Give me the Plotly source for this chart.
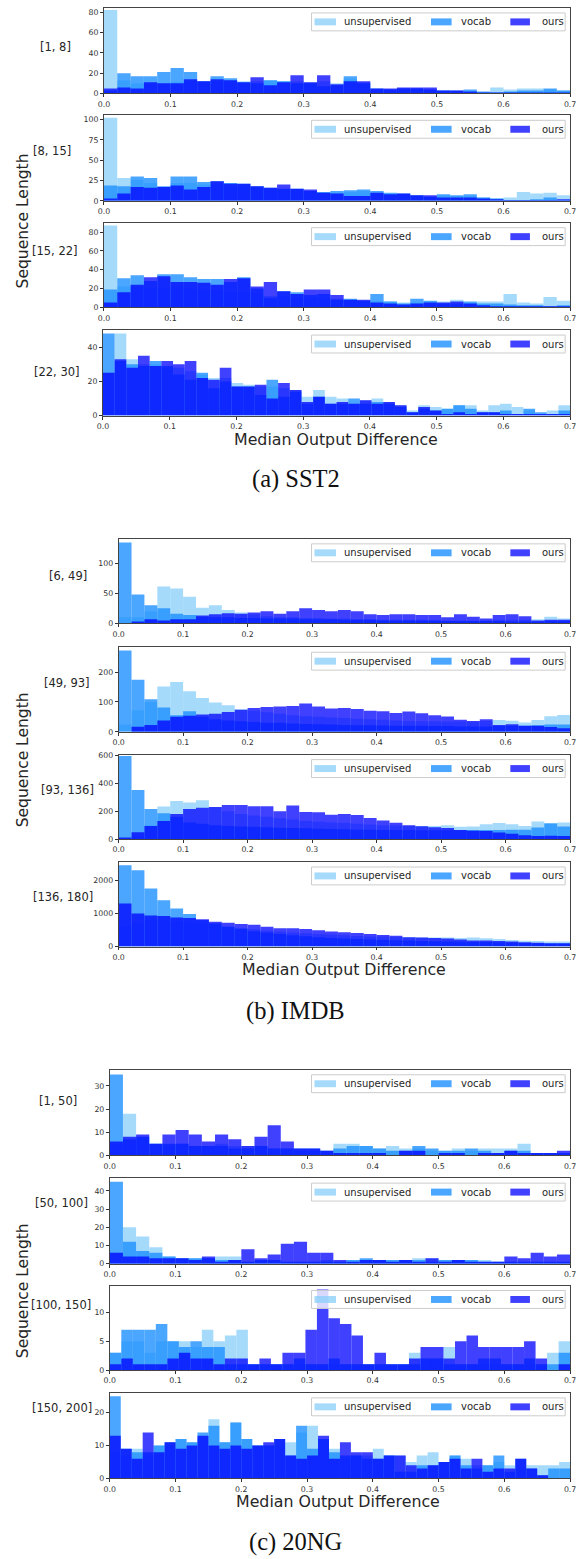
import numpy as np
import plotly.graph_objects as go

# ---------------- data (bin counts) ----------------
series_names = ["unsupervised", "vocab", "ours"]
row_labels = ["[1, 8]", "[8, 15]", "[15, 22]", "[22, 30]",
              "[6, 49]", "[49, 93]", "[93, 136]", "[136, 180]",
              "[1, 50]", "[50, 100]", "[100, 150]", "[150, 200]"]
captions = ["(a) SST2", "(b) IMDB", "(c) 20NG"]
x_ticks = [0.0, 0.1, 0.2, 0.3, 0.4, 0.5, 0.6, 0.7]

# SST2
u1 = [82, 13, 10, 10, 10, 11, 12, 12, 12, 13, 12, 12, 13, 12, 12, 11, 12, 10, 14, 11, 4, 4, 5, 5, 4, 3, 2, 2, 1, 6, 4, 5, 5, 4, 3]
v1 = [3, 20, 17, 17, 21, 25, 21, 12, 17, 15, 11, 10, 13, 12, 10, 10, 7, 8, 17, 10, 5, 4, 5, 5, 4, 3, 3, 4, 2, 1, 2, 3, 3, 5, 3]
o1 = [5, 6, 5, 11, 10, 10, 14, 12, 14, 13, 11, 16, 8, 11, 18, 11, 18, 9, 12, 12, 5, 5, 6, 6, 6, 3, 3, 2, 1, 1, 1, 1, 1, 1, 1]

u2 = [102, 28, 26, 22, 16, 22, 22, 20, 20, 18, 18, 16, 14, 14, 13, 12, 10, 10, 11, 12, 10, 8, 8, 6, 5, 7, 6, 6, 4, 3, 4, 11, 9, 10, 7]
v2 = [19, 18, 30, 28, 18, 30, 30, 23, 24, 22, 21, 18, 16, 15, 15, 12, 11, 12, 13, 14, 12, 10, 9, 7, 5, 8, 7, 8, 4, 3, 1, 1, 2, 4, 1]
o2 = [3, 9, 17, 16, 17, 19, 14, 17, 24, 21, 21, 18, 16, 20, 15, 14, 10, 9, 6, 6, 10, 8, 9, 7, 7, 4, 4, 4, 3, 2, 1, 1, 1, 1, 2]

u3 = [87, 22, 22, 20, 20, 22, 20, 18, 18, 16, 16, 15, 12, 12, 11, 10, 10, 9, 8, 7, 7, 6, 5, 5, 6, 6, 8, 5, 6, 6, 14, 5, 4, 11, 7]
v3 = [19, 31, 34, 28, 35, 35, 32, 30, 30, 27, 32, 20, 10, 17, 16, 13, 14, 8, 9, 7, 14, 6, 4, 9, 7, 4, 4, 6, 4, 4, 3, 2, 2, 1, 2]
o3 = [5, 16, 24, 32, 33, 27, 27, 26, 24, 30, 31, 22, 27, 17, 14, 19, 19, 13, 8, 8, 5, 4, 3, 4, 5, 5, 6, 4, 2, 1, 1, 1, 1, 1, 1]

u4 = [25, 48, 33, 30, 30, 28, 28, 26, 24, 22, 22, 19, 18, 17, 17, 16, 15, 11, 15, 11, 10, 7, 9, 10, 8, 6, 3, 6, 5, 4, 6, 6, 3, 6, 7, 5, 3, 1, 3, 6]
v4 = [48, 32, 30, 29, 32, 29, 24, 21, 25, 16, 20, 17, 17, 12, 21, 11, 14, 7, 11, 7, 7, 10, 7, 8, 7, 5, 2, 4, 3, 4, 6, 4, 2, 2, 3, 1, 4, 2, 1, 3]
o4 = [25, 33, 28, 35, 29, 32, 30, 32, 22, 21, 28, 17, 17, 18, 10, 19, 15, 8, 11, 7, 8, 7, 9, 7, 8, 6, 2, 5, 3, 1, 2, 1, 2, 2, 1, 1, 1, 1, 1, 1]

# IMDB
u5 = [10, 10, 20, 61, 58, 44, 26, 30, 22, 18, 15, 12, 10, 10, 9, 9, 8, 8, 7, 7, 6, 6, 6, 6, 5, 5, 5, 5, 5, 6, 6, 6, 7, 11, 8]
v5 = [134, 48, 30, 25, 16, 14, 11, 10, 10, 9, 9, 8, 8, 8, 7, 7, 7, 6, 6, 6, 5, 5, 5, 5, 5, 4, 4, 4, 4, 4, 3, 3, 3, 4, 4]
o5 = [0, 3, 7, 5, 7, 7, 13, 15, 17, 16, 18, 20, 16, 20, 25, 22, 20, 22, 20, 15, 14, 15, 15, 14, 14, 10, 15, 11, 8, 14, 15, 12, 5, 6, 6]

u6 = [24, 72, 100, 152, 167, 136, 113, 98, 89, 75, 70, 65, 60, 55, 52, 50, 48, 46, 44, 42, 40, 38, 36, 35, 35, 34, 34, 34, 36, 39, 37, 31, 39, 52, 56]
v6 = [272, 174, 109, 81, 55, 69, 50, 42, 38, 35, 33, 30, 30, 28, 26, 25, 24, 23, 22, 22, 21, 20, 20, 20, 19, 19, 18, 18, 18, 19, 20, 20, 22, 24, 24]
o6 = [0, 17, 23, 38, 50, 54, 58, 60, 66, 74, 80, 83, 85, 86, 95, 85, 78, 80, 76, 70, 69, 63, 68, 62, 55, 51, 40, 36, 42, 23, 25, 20, 20, 16, 12]

u7 = [0, 20, 100, 234, 273, 263, 278, 229, 200, 180, 170, 160, 150, 140, 130, 125, 120, 115, 110, 105, 100, 98, 96, 95, 95, 100, 88, 90, 107, 115, 107, 95, 127, 115, 120]
v7 = [595, 351, 215, 185, 160, 120, 110, 100, 95, 90, 88, 85, 82, 80, 78, 75, 72, 70, 68, 67, 66, 65, 65, 64, 64, 63, 64, 65, 66, 66, 68, 68, 83, 112, 90]
o7 = [12, 50, 95, 130, 180, 215, 225, 230, 245, 245, 235, 235, 200, 240, 195, 192, 175, 180, 172, 152, 134, 118, 100, 93, 86, 79, 66, 60, 59, 47, 38, 28, 22, 25, 22]

u8 = [600, 700, 800, 800, 780, 750, 700, 650, 600, 560, 520, 480, 450, 420, 400, 380, 360, 340, 320, 300, 300, 290, 280, 275, 270, 275, 260, 270, 250, 230, 200, 175, 170, 155, 150]
v8 = [2450, 2300, 1750, 1400, 1150, 980, 800, 700, 600, 530, 460, 420, 380, 340, 310, 280, 260, 245, 230, 215, 200, 190, 180, 170, 160, 150, 145, 140, 135, 130, 120, 110, 100, 95, 90]
o8 = [1300, 1000, 940, 920, 875, 860, 820, 750, 720, 680, 655, 600, 550, 550, 530, 490, 455, 432, 405, 375, 345, 325, 280, 275, 260, 240, 210, 185, 180, 170, 150, 130, 115, 100, 100]

# 20NG
u9 = [5, 18, 8, 5, 4, 5, 4, 4, 5, 4, 4, 4, 3, 3, 2, 2, 2, 5, 5, 4, 3, 4, 3, 3, 2, 2, 3, 2, 3, 3, 3, 5, 1, 1, 1]
v9 = [35, 7, 8, 5, 5, 5, 4, 4, 4, 3, 3, 4, 3, 3, 3, 3, 2, 3, 4, 4, 3, 2, 2, 4, 3, 2, 2, 3, 2, 1, 2, 2, 1, 1, 1]
o9 = [6, 8, 9, 5, 9, 11, 9, 6, 9, 7, 4, 8, 13, 6, 3, 3, 2, 1, 1, 1, 1, 0, 2, 2, 0, 1, 1, 0, 1, 1, 2, 1, 1, 1, 2]

u10 = [6, 20, 15, 9, 4, 3, 3, 3, 4, 4, 1, 2, 2, 1, 1, 1, 2, 1, 2, 2, 2, 2, 2, 3, 3, 2, 2, 2, 2, 1, 1, 1, 1, 1, 1]
v10 = [45, 12, 7, 6, 4, 3, 3, 3, 2, 2, 1, 2, 2, 1, 1, 1, 1, 1, 2, 3, 2, 2, 2, 2, 1, 2, 2, 2, 1, 1, 1, 1, 1, 1, 1]
o10 = [6, 4, 4, 3, 3, 3, 2, 4, 1, 2, 8, 3, 5, 11, 12, 6, 6, 2, 1, 2, 2, 1, 2, 1, 3, 1, 2, 1, 1, 1, 4, 3, 6, 4, 5]

u11 = [3, 5, 5, 3, 5, 5, 5, 4, 7, 5, 6, 7, 1, 1, 1, 1, 1, 1, 1, 1, 1, 1, 1, 1, 1, 1, 3, 2, 2, 4, 1, 1, 1, 1, 1, 1, 1, 1, 3, 5]
v11 = [3, 7, 7, 7, 8, 5, 4, 5, 4, 4, 1, 1, 1, 1, 1, 1, 2, 1, 1, 2, 1, 1, 1, 1, 1, 1, 1, 2, 2, 1, 1, 1, 2, 2, 1, 1, 2, 1, 1, 3]
o11 = [1, 2, 1, 1, 1, 2, 3, 2, 2, 1, 2, 2, 1, 2, 1, 3, 3, 7, 14, 9, 8, 6, 1, 3, 1, 1, 2, 4, 4, 2, 5, 6, 4, 4, 4, 4, 5, 2, 0, 1]

u12 = [8, 7, 9, 7, 10, 10, 12, 11, 12, 18, 11, 17, 12, 10, 10, 10, 11, 14, 16, 12, 9, 6, 7, 7, 9, 7, 7, 5, 7, 8, 5, 7, 6, 4, 4, 5, 4, 3, 4, 4, 4, 5]
v12 = [25, 9, 8, 8, 10, 11, 12, 11, 14, 16, 11, 17, 12, 10, 10, 12, 7, 16, 9, 12, 8, 7, 7, 6, 6, 7, 2, 2, 4, 4, 5, 7, 4, 3, 4, 7, 2, 6, 3, 1, 3, 3]
o12 = [13, 9, 6, 14, 8, 11, 9, 10, 13, 10, 9, 10, 9, 10, 11, 12, 7, 6, 7, 13, 6, 11, 8, 8, 6, 7, 7, 4, 3, 4, 5, 6, 3, 6, 2, 3, 3, 6, 3, 1, 0, 0]

y_max = [84, 105, 90, 50, 140, 283, 605, 2550, 37, 47, 14.7, 26]
y_dtick = [20, 25, 20, 20, 50, 100, 200, 1000, 10, 10, 5, 10]

panel_data = [(u1, v1, o1), (u2, v2, o2), (u3, v3, o3), (u4, v4, o4),
              (u5, v5, o5), (u6, v6, o6), (u7, v7, o7), (u8, v8, o8),
              (u9, v9, o9), (u10, v10, o10), (u11, v11, o11), (u12, v12, o12)]

# ---------------- layout (pixels) ----------------
W, H = 580, 1559
panels = [(100, 4, 576, 90), (100, 112, 576, 198), (100, 220, 576, 305), (99, 328, 576, 414),
          (115, 538, 576, 623), (115, 647, 576, 732), (115, 755, 576, 840), (115, 863, 576, 948),
          (106, 1072, 576, 1158), (106, 1181, 576, 1267), (106, 1289, 576, 1374), (106, 1397, 576, 1483)]
label_pos = [(51, 43), (47, 148), (50, 248), (52, 370),
             (63, 575), (62, 683), (63, 791), (58, 898),
             (53, 1103), (57, 1206), (56, 1309), (57, 1412)]
ylab_pos = [(17, 218), (17, 760), (17, 1294)]
xtitle_pos = [(337, 438), (345, 971), (339, 1506)]
caption_pos = [(296, 478), (296, 1013), (296, 1547)]

colors = ["rgba(135,206,250,0.75)", "rgba(30,144,255,0.8)", "rgba(0,0,255,0.75)"]
tick_font = dict(size=7.8, color="#333333", family="DejaVu Sans")
text_color = "#262626"


def fx(p):
    return p / W


def fy(p):
    return 1 - p / H


fig = go.Figure()
layout = dict(width=W, height=H, margin=dict(l=0, r=0, t=0, b=0),
              paper_bgcolor="white", plot_bgcolor="white", barmode="overlay",
              showlegend=False, font=dict(family="DejaVu Sans", color=text_color))
shapes = []
annotations = []

for i, ((l, t, r, b), series) in enumerate(zip(panels, panel_data)):
    k = "" if i == 0 else str(i + 1)
    for name, vals, col in zip(series_names, series, colors):
        n = len(vals)
        edges = np.linspace(0, 0.7, n + 1)
        centers = (edges[:-1] + edges[1:]) / 2
        fig.add_trace(go.Bar(x=centers, y=vals, width=0.7 / n, name=name,
                             marker=dict(color=col, line=dict(width=0)),
                             xaxis="x" + k, yaxis="y" + k, showlegend=False,
                             hoverinfo="skip"))
    common = dict(ticks="outside", ticklen=3, tickwidth=0.8, tickcolor="#333333",
                  showline=True, mirror=True, linecolor="#444444", linewidth=0.9,
                  showgrid=False, zeroline=False, tickfont=tick_font, fixedrange=True,
                  ticklabeloverflow="allow")
    layout["xaxis" + k] = dict(domain=[fx(l), fx(r)], range=[0, 0.7], anchor="y" + k,
                               tickvals=x_ticks, tickformat=".1f", **common)
    layout["yaxis" + k] = dict(domain=[fy(b), fy(t)], range=[0, y_max[i]], anchor="x" + k,
                               dtick=y_dtick[i], tick0=0, tickformat="d", **common)

    # legend box
    bl, br, bt = 312, 571, t + 5
    shapes.append(dict(type="rect", xref="paper", yref="paper",
                       x0=fx(bl), x1=fx(br), y0=fy(bt + 18), y1=fy(bt),
                       fillcolor="rgba(255,255,255,0.8)",
                       line=dict(color="#cccccc", width=1), layer="above"))
    yc = bt + 9
    for (p0, p1, tx), name, col in zip([(3, 25, 31), (122, 143, 151), (203, 223, 233)],
                                       series_names, colors):
        shapes.append(dict(type="rect", xref="paper", yref="paper",
                           x0=fx(bl + p0), x1=fx(bl + p1), y0=fy(yc + 3.5), y1=fy(yc - 3.5),
                           fillcolor=col, line=dict(width=0), layer="above"))
        annotations.append(dict(text=name, x=fx(bl + tx), y=fy(yc), xref="paper", yref="paper",
                                xanchor="left", yanchor="middle", showarrow=False,
                                font=dict(size=10, color=text_color, family="DejaVu Sans")))
    # row label
    lx, ly = label_pos[i]
    annotations.append(dict(text=row_labels[i], x=fx(lx), y=fy(ly), xref="paper", yref="paper",
                            xanchor="center", yanchor="middle", showarrow=False,
                            font=dict(size=11.5, color=text_color, family="DejaVu Sans")))

for g in range(3):
    annotations.append(dict(text="Sequence Length", x=fx(ylab_pos[g][0]), y=fy(ylab_pos[g][1]),
                            xref="paper", yref="paper", textangle=-90, showarrow=False,
                            xanchor="center", yanchor="middle",
                            font=dict(size=15.5, color=text_color, family="DejaVu Sans")))
    annotations.append(dict(text="Median Output Difference", x=fx(xtitle_pos[g][0]),
                            y=fy(xtitle_pos[g][1]), xref="paper", yref="paper", showarrow=False,
                            xanchor="center", yanchor="middle",
                            font=dict(size=15.8, color=text_color, family="DejaVu Sans")))
    annotations.append(dict(text=captions[g], x=fx(caption_pos[g][0]), y=fy(caption_pos[g][1]),
                            xref="paper", yref="paper", showarrow=False,
                            xanchor="center", yanchor="middle",
                            font=dict(size=24.5, color="#111111", family="Liberation Serif")))

layout["shapes"] = shapes
layout["annotations"] = annotations
fig.update_layout(**layout)
fig.write_html("out.html", config={"displayModeBar": False},
               post_script="document.body.style.margin='0';document.body.style.overflow='hidden';")
